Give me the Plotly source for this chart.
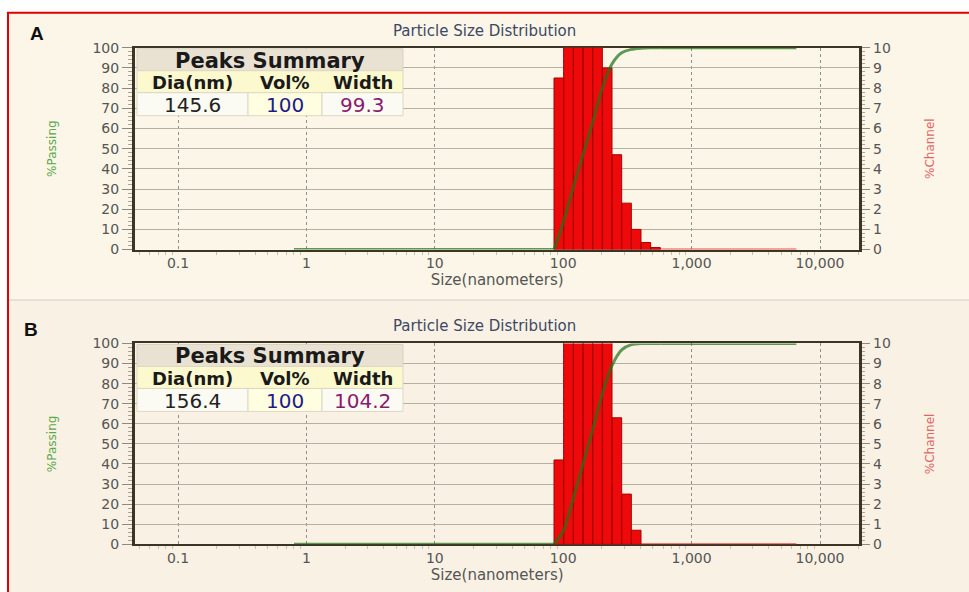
import plotly.graph_objects as go

# ---------------- data ----------------
size_edges = [84.8, 100.8, 119.9, 142.6, 169.6, 201.7, 239.9, 285.3, 339.3, 403.5, 479.8, 570.6]
measure_range = [0.8, 6540]

channel_a = [8.5, 15.0, 19.5, 21.5, 18.5, 9.0, 4.7, 2.3, 1.0, 0.35, 0.1]
passing_a = [0, 14, 31, 47, 63, 80, 92, 97.5, 99.2, 99.8, 100, 100]

channel_b = [4.2, 13.0, 19.0, 21.0, 19.0, 14.3, 6.3, 2.5, 0.7, 0, 0]
passing_b = [0, 7, 23, 40, 57, 75, 89, 96.8, 99.4, 100, 100, 100]

peaks_title = "Peaks Summary"
peaks_header = ["Dia(nm)", "Vol%", "Width"]
peaks_a = ["145.6", "100", "99.3"]
peaks_b = ["156.4", "100", "104.2"]

x_tickvals = [0.1, 1, 10, 100, 1000, 10000]
x_ticktext = ["0.1", "1", "10", "100", "1,000", "10,000"]
panel_labels = ["A", "B"]
chart_title = "Particle Size Distribution"

# ---------------- geometry helpers ----------------
W, H = 969, 592
Y0, YSPAN = 7.23, 576.5   # vertical placement of the rendered figure in the viewport
def px(x):
    return x / W
def py(y):
    return 1 - (y - Y0) / YSPAN

PLOT_L, PLOT_R = 135, 859.3
TOPS = [47, 343]
BOTS = [249, 544]
OFFS = [0, 296]

TICK_FONT = dict(family="DejaVu Sans", size=14, color="#555555")
AXIS_LINE = "#3b3526"
GREEN = "rgba(35,115,25,0.72)"

def bar_path(edges, vals):
    xs, ys = [], []
    for lo, hi, v in zip(edges[:-1], edges[1:], vals):
        if v <= 0:
            continue
        xs += [lo, lo, hi, hi, lo, None]
        ys += [0, v, v, 0, 0, None]
    return xs, ys

fig = go.Figure()
layout = dict(
    width=W, height=H,
    margin=dict(l=0, r=0, t=0, b=0),
    paper_bgcolor="white",
    plot_bgcolor="#FFFBEF",
    showlegend=False,
    shapes=[], annotations=[],
)

minor_x = [m * 10 ** e for e in range(-2, 5) for m in range(2, 10)]

panels = [(channel_a, passing_a, peaks_a), (channel_b, passing_b, peaks_b)]
for i, (chan, pas, peaks) in enumerate(panels):
    xa = "x" if i == 0 else "x2"
    yc = "y" if i == 0 else "y3"      # channel (base, right)
    yp = "y2" if i == 0 else "y4"     # passing (overlay, left)
    xkey = "xaxis" if i == 0 else "xaxis2"
    yckey = "yaxis" if i == 0 else "yaxis3"
    ypkey = "yaxis2" if i == 0 else "yaxis4"
    dom_y = [py(BOTS[i]), py(TOPS[i])]
    off = OFFS[i]

    # zero baseline of channel distribution
    fig.add_trace(go.Scatter(x=[size_edges[0], measure_range[1]], y=[0, 0], mode="lines",
                             line=dict(color="rgba(230,40,40,0.8)", width=2),
                             xaxis=xa, yaxis=yc, hoverinfo="skip"))
    bx, by = bar_path(size_edges, chan)
    fig.add_trace(go.Scatter(x=bx, y=by, mode="lines", fill="toself",
                             fillcolor="#EE0A0A",
                             line=dict(color="#A80000", width=1),
                             xaxis=xa, yaxis=yc, name="%Channel"))
    # flat parts of the cumulative curve (below / above the distribution)
    fig.add_trace(go.Scatter(x=[measure_range[0], size_edges[0], None, size_edges[-1], measure_range[1]],
                             y=[pas[0], pas[0], None, pas[-1], pas[-1]], mode="lines",
                             line=dict(color=GREEN, width=3), xaxis=xa, yaxis=yp,
                             hoverinfo="skip"))
    fig.add_trace(go.Scatter(x=size_edges, y=pas, mode="lines",
                             line=dict(color=GREEN, width=3, shape="spline", smoothing=0.7),
                             xaxis=xa, yaxis=yp, name="%Passing"))

    layout[xkey] = dict(
        type="log", range=[-1.335, 4.306], domain=[px(PLOT_L), px(PLOT_R)],
        anchor=yc, tickmode="array", tickvals=x_tickvals, ticktext=x_ticktext,
        tickfont=TICK_FONT, ticks="", showgrid=True, gridcolor="#8f8f88",
        griddash="dot", gridwidth=1, showline=True, linecolor=AXIS_LINE,
        linewidth=2, mirror=True, zeroline=False, layer="below traces",
        minor=dict(tickvals=minor_x, ticks="outside", ticklen=3,
                   tickcolor="#c8c2b0", showgrid=False),
        title=dict(text="Size(nanometers)",
                   font=dict(family="DejaVu Sans", size=15, color="#555555"),
                   standoff=1),
    )
    layout[yckey] = dict(
        domain=dom_y, anchor=xa, side="right", range=[0, 10], dtick=1,
        tickfont=TICK_FONT, ticks="outside", ticklen=8, tickcolor="#8a8a80",
        showgrid=False, showline=True, linecolor=AXIS_LINE, linewidth=3,
        zeroline=False,
        minor=dict(dtick=0.2, ticks="outside", ticklen=3, tickcolor="#aaa59a"),
        title=dict(text="%Channel",
                   font=dict(family="DejaVu Sans", size=12, color="#E06666"),
                   standoff=36),
    )
    layout[ypkey] = dict(
        overlaying=yc, anchor=xa, side="left", range=[0, 100], dtick=10,
        tickfont=TICK_FONT, ticks="outside", ticklen=10, tickcolor="#8a8a80",
        showgrid=True, gridcolor="#b3b0a4", gridwidth=1,
        showline=True, linecolor=AXIS_LINE, linewidth=3, zeroline=False,
        minor=dict(dtick=2, ticks="outside", ticklen=4, tickcolor="#aaa59a"),
        title=dict(text="%Passing",
                   font=dict(family="DejaVu Sans", size=12, color="#5BA84A"),
                   standoff=34),
    )

    # chart title and panel label
    layout["annotations"].append(dict(
        text=chart_title, x=px(485), y=py(30 + off), xref="paper", yref="paper",
        showarrow=False, font=dict(family="DejaVu Sans", size=15, color="#3D4866"),
        xanchor="center", yanchor="middle"))
    layout["annotations"].append(dict(
        text="<b>%s</b>" % panel_labels[i], x=px(37 - 6 * i), y=py(33 + off),
        xref="paper", yref="paper", showarrow=False,
        font=dict(family="Liberation Sans", size=19, color="#111111"),
        xanchor="center", yanchor="middle"))

    # peaks summary table
    cols = [137, 248, 322, 403]
    rows = [48 + off, 70 + off, 92 + off, 115 + off]
    layout["shapes"].append(dict(type="rect", xref="paper", yref="paper",
        x0=px(cols[0]), x1=px(cols[3]), y0=py(rows[0]), y1=py(rows[1]),
        fillcolor="#E9E2D2", line=dict(color="#D8D2C2", width=1)))
    layout["shapes"].append(dict(type="rect", xref="paper", yref="paper",
        x0=px(cols[0]), x1=px(cols[3]), y0=py(rows[1]), y1=py(rows[2]),
        fillcolor="#FCF9CE", line=dict(color="#DCD8C4", width=1)))
    val_fills = ["#FBFBF4", "#FFFEE0", "#FBFBF4"]
    for c in range(3):
        layout["shapes"].append(dict(type="rect", xref="paper", yref="paper",
            x0=px(cols[c]), x1=px(cols[c + 1]), y0=py(rows[2]), y1=py(rows[3]),
            fillcolor=val_fills[c], line=dict(color="#DCD8C4", width=1)))
    layout["annotations"].append(dict(
        text="<b>%s</b>" % peaks_title, x=px((cols[0] + cols[3]) / 2),
        y=py((rows[0] + rows[1]) / 2 + 1), xref="paper", yref="paper", showarrow=False,
        font=dict(family="DejaVu Sans", size=21, color="#1A1A1A"),
        xanchor="center", yanchor="middle"))
    val_colors = ["#222222", "#1C1C8C", "#8B1A6E"]
    for c in range(3):
        cx = px((cols[c] + cols[c + 1]) / 2)
        layout["annotations"].append(dict(
            text="<b>%s</b>" % peaks_header[c], x=cx, y=py((rows[1] + rows[2]) / 2 + 1),
            xref="paper", yref="paper", showarrow=False,
            font=dict(family="DejaVu Sans", size=18, color="#1A1A1A"),
            xanchor="center", yanchor="middle"))
        layout["annotations"].append(dict(
            text=peaks[c], x=cx, y=py((rows[2] + rows[3]) / 2 + 1),
            xref="paper", yref="paper", showarrow=False,
            font=dict(family="DejaVu Sans", size=20, color=val_colors[c]),
            xanchor="center", yanchor="middle"))

# panel backgrounds, separator, red frame
layout["shapes"] = [
    dict(type="rect", xref="paper", yref="paper", layer="below",
         x0=px(8), x1=px(975), y0=py(299), y1=py(12),
         fillcolor="#FBF6E7", line=dict(width=0)),
    dict(type="rect", xref="paper", yref="paper", layer="below",
         x0=px(8), x1=px(975), y0=py(610), y1=py(300),
         fillcolor="#F9F2E4", line=dict(width=0)),
    dict(type="line", xref="paper", yref="paper", layer="below",
         x0=px(8), x1=px(975), y0=py(299.5), y1=py(299.5),
         line=dict(color="#CFCABD", width=1)),
] + layout["shapes"] + [
    dict(type="rect", xref="paper", yref="paper",
         x0=px(8), x1=px(980), y0=py(610), y1=py(12),
         line=dict(color="#E00000", width=2)),
]

fig.update_layout(**layout)
fig.write_html(
    "out.html",
    config={"displayModeBar": False},
    post_script=(
        "document.documentElement.style.margin='0';"
        "document.documentElement.style.overflow='hidden';"
        "document.body.style.margin='0';document.body.style.padding='0';"
        "document.body.style.overflow='hidden';"
        "var gd=document.getElementById('{plot_id}');"
        "gd.style.position='fixed';gd.style.left='0px';gd.style.top='0px';"
    ),
)
